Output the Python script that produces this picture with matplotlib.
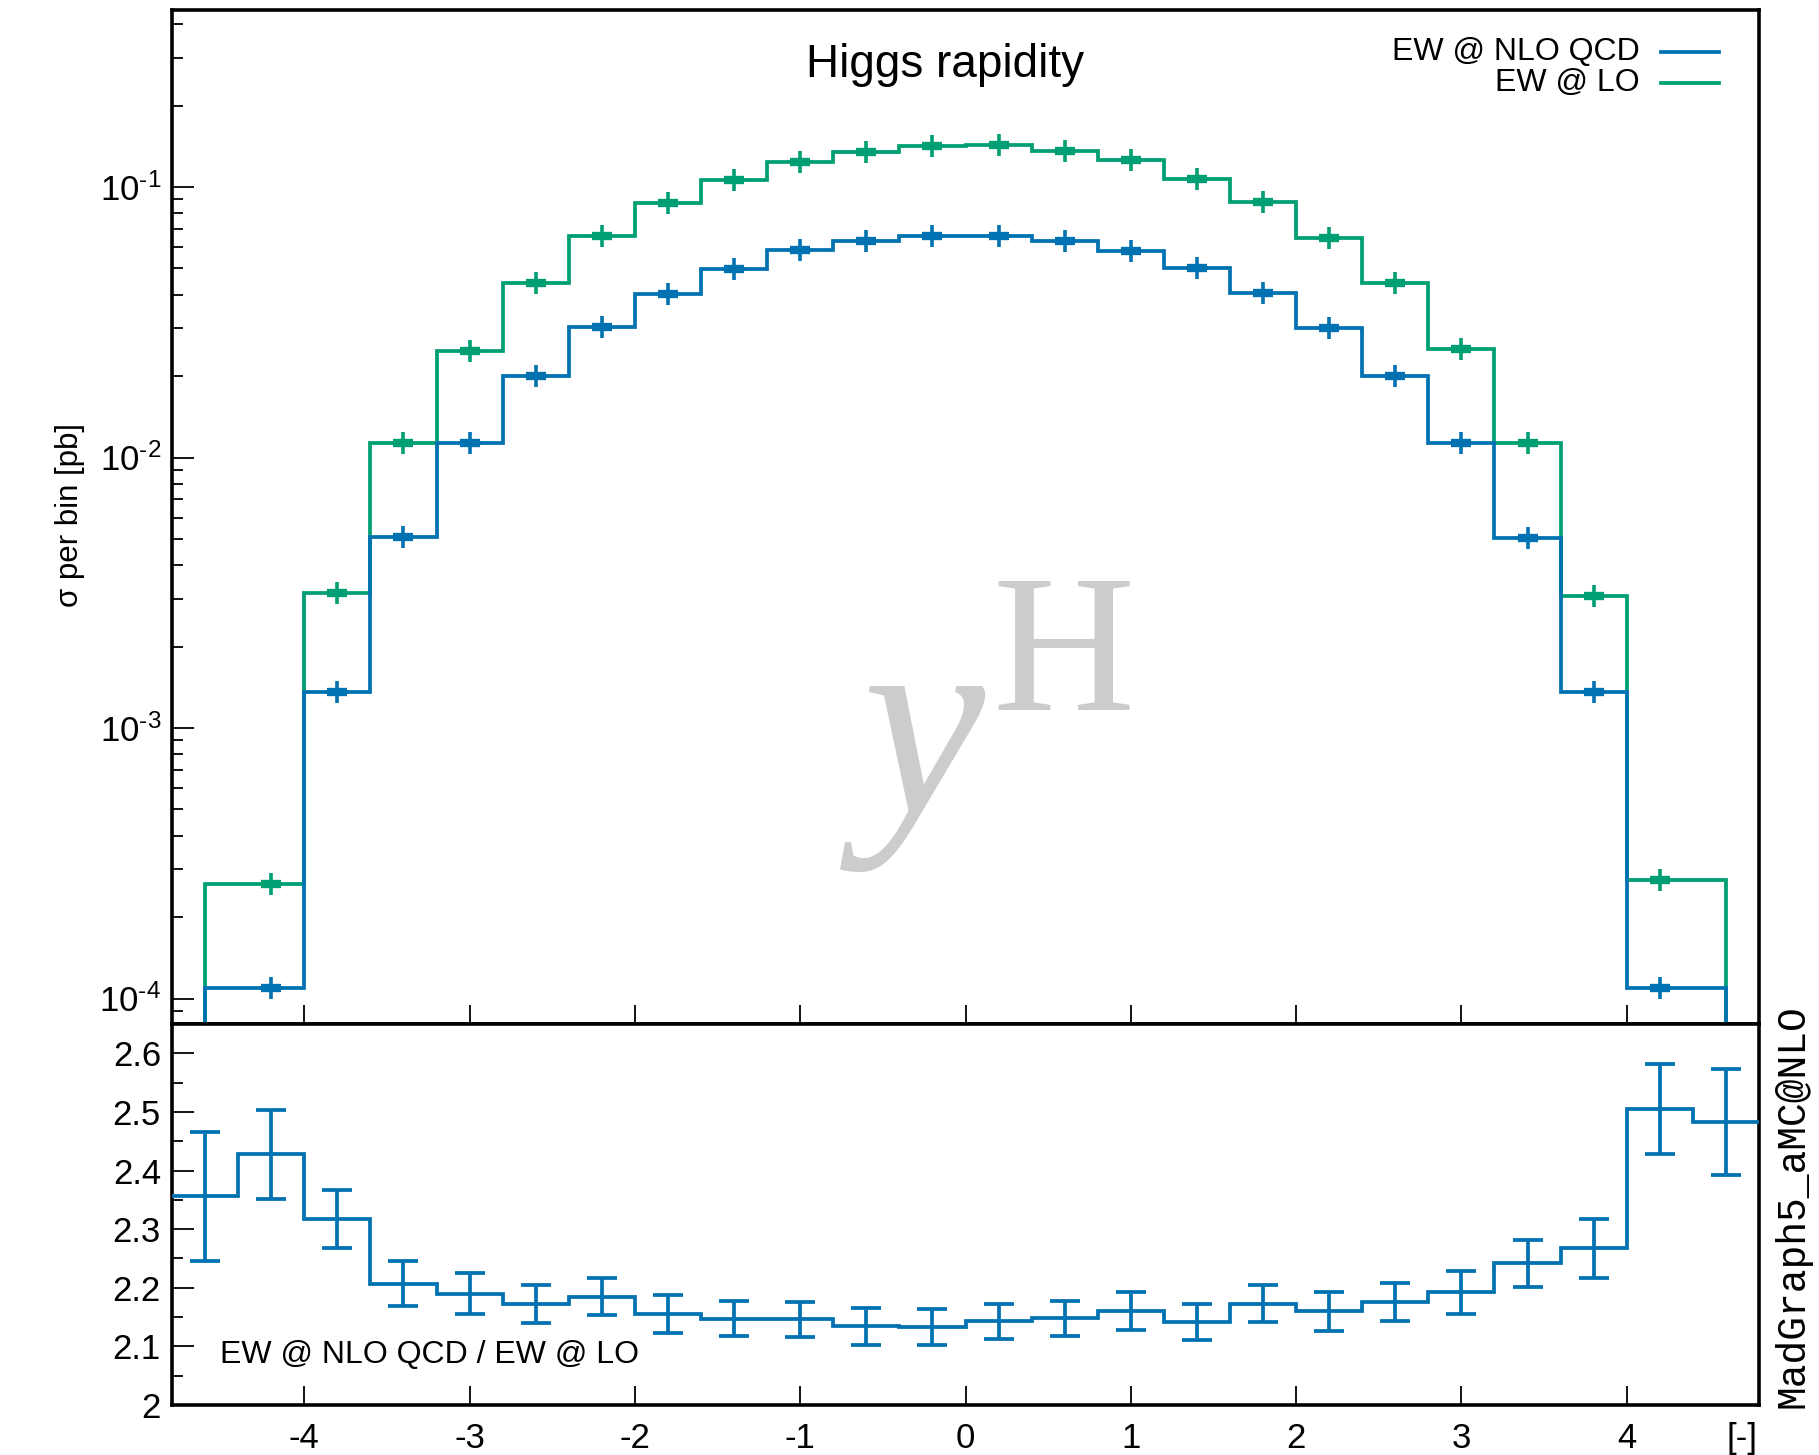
import numpy as np
import matplotlib
matplotlib.use("Agg")
import matplotlib.pyplot as plt
from matplotlib.ticker import FixedLocator, NullFormatter, LogLocator, MultipleLocator

plt.rcParams['font.family'] = ['Liberation Sans', 'DejaVu Sans']
plt.rcParams['mathtext.fontset'] = 'custom'
plt.rcParams['mathtext.rm'] = 'Liberation Sans'
plt.rcParams['mathtext.it'] = 'Liberation Sans:italic'
plt.rcParams['mathtext.bf'] = 'Liberation Sans:bold'
plt.rcParams['axes.unicode_minus'] = False

# ---- data: Higgs rapidity, bins of width 0.4 ----
bin_centers = [-4.6, -4.2, -3.8, -3.4, -3.0, -2.6, -2.2, -1.8, -1.4, -1.0, -0.6, -0.2,
               0.2, 0.6, 1.0, 1.4, 1.8, 2.2, 2.6, 3.0, 3.4, 3.8, 4.2, 4.6]
bin_width = 0.4

xsec_nlo_qcd = [2.6e-5, 1.09e-4, 1.36e-3, 5.1e-3, 1.127e-2, 1.995e-2, 3.03e-2, 4.03e-2,
                4.96e-2, 5.86e-2, 6.29e-2, 6.6e-2, 6.6e-2, 6.33e-2, 5.82e-2, 5.0e-2,
                4.05e-2, 3.0e-2, 1.995e-2, 1.127e-2, 5.06e-3, 1.36e-3, 1.09e-4, 2.7e-5]

xsec_lo = [6.1e-5, 2.66e-4, 3.15e-3, 1.127e-2, 2.48e-2, 4.40e-2, 6.6e-2, 8.71e-2,
           1.06e-1, 1.24e-1, 1.345e-1, 1.413e-1, 1.425e-1, 1.36e-1, 1.256e-1, 1.07e-1,
           8.79e-2, 6.47e-2, 4.40e-2, 2.51e-2, 1.127e-2, 3.08e-3, 2.74e-4, 6.7e-5]

ratio = [2.356, 2.428, 2.317, 2.207, 2.190, 2.172, 2.185, 2.155, 2.147, 2.146, 2.134, 2.133,
         2.143, 2.148, 2.160, 2.141, 2.173, 2.160, 2.176, 2.192, 2.242, 2.267, 2.505, 2.483]
ratio_err = [0.110, 0.076, 0.049, 0.039, 0.035, 0.032, 0.032, 0.033, 0.030, 0.030, 0.031, 0.030,
             0.030, 0.030, 0.032, 0.031, 0.032, 0.033, 0.032, 0.037, 0.040, 0.050, 0.077, 0.091]

x_ticks = [-4, -3, -2, -1, 0, 1, 2, 3, 4]
x_tick_labels = ['-4', '-3', '-2', '-1', '0', '1', '2', '3', '4']
xsec_ticks = [1e-4, 1e-3, 1e-2, 1e-1]
xsec_tick_labels = [r'$10^{\text{-}4}$', r'$10^{\text{-}3}$', r'$10^{\text{-}2}$', r'$10^{\text{-}1}$']
ratio_ticks = [2.0, 2.1, 2.2, 2.3, 2.4, 2.5, 2.6]
ratio_tick_labels = ['2', '2.1', '2.2', '2.3', '2.4', '2.5', '2.6']

series_labels = ['EW @ NLO QCD', 'EW @ LO']
BLUE = '#0072B2'
GREEN = '#009E73'

XLIM = (-4.8, 4.8)
YLIM_TOP = (8.05e-5, 0.451)
YLIM_RATIO = (2.0, 2.65)

FS_TICK = 25
FS_TEXT = 23
LW = 2.7
SPINE_LW = 2.6

fig = plt.figure(figsize=(18.19, 14.55), dpi=100)
ax = fig.add_axes([0.0946, 0.2962, 0.8724, 0.6969])
ax2 = fig.add_axes([0.0946, 0.0344, 0.8724, 0.2618])


def clipped_histeps(axis, centers, values, ymin, color, zorder):
    """Step histogram on a log axis; bins below ymin are collapsed into the
    neighbouring visible step, whose outer edge falls on the hidden bin centre."""
    c = np.asarray(centers, dtype=float)
    v = np.asarray(values, dtype=float)
    vis = np.flatnonzero(v >= ymin)
    lo, hi = vis[0], vis[-1]
    inner = 0.5 * (c[lo:hi] + c[lo + 1:hi + 1])
    left = c[lo - 1] if lo > 0 else c[lo] - 0.5 * bin_width
    right = c[hi + 1] if hi < len(c) - 1 else c[hi] + 0.5 * bin_width
    edges = np.concatenate([[left], inner, [right]])
    axis.stairs(v[lo:hi + 1], edges, baseline=ymin * 1e-3, fill=False,
                color=color, lw=LW, zorder=zorder)
    axis.plot(c[lo:hi + 1], v[lo:hi + 1], ls='none', marker='+', ms=16, mew=2.6,
              color=color, zorder=zorder + 0.1)
    axis.plot(c[lo:hi + 1], v[lo:hi + 1], ls='none', marker='_', ms=15, mew=6.0,
              color=color, zorder=zorder + 0.1)


clipped_histeps(ax, bin_centers, xsec_lo, YLIM_TOP[0], GREEN, 3)
clipped_histeps(ax, bin_centers, xsec_nlo_qcd, YLIM_TOP[0], BLUE, 4)

ax.set_yscale('log')
ax.set_xlim(*XLIM)
ax.set_ylim(*YLIM_TOP)
ax.xaxis.set_major_locator(FixedLocator(x_ticks))
ax.xaxis.set_major_formatter(NullFormatter())
ax.set_yticks(xsec_ticks, xsec_tick_labels)
ax.yaxis.set_minor_locator(LogLocator(base=10, subs=np.arange(2, 10)))
ax.yaxis.set_minor_formatter(NullFormatter())

# ratio panel
edges = np.concatenate([np.asarray(bin_centers) - bin_width / 2, [bin_centers[-1] + bin_width / 2]])
ax2.stairs(ratio, edges, baseline=None, color=BLUE, lw=LW, zorder=3)
ax2.errorbar(bin_centers, ratio, yerr=ratio_err, fmt='none', ecolor=BLUE,
             elinewidth=LW, capsize=10.5, capthick=LW, zorder=3)
ax2.set_xlim(*XLIM)
ax2.set_ylim(*YLIM_RATIO)
ax2.set_xticks(x_ticks, x_tick_labels)
ax2.set_yticks(ratio_ticks, ratio_tick_labels)
ax2.yaxis.set_minor_locator(MultipleLocator(0.05))

for a in (ax, ax2):
    for s in a.spines.values():
        s.set_linewidth(SPINE_LW)
    a.tick_params(which='both', direction='in', top=False, right=False, width=1.3,
                  labelsize=FS_TICK)
    a.tick_params(axis='x', which='major', length=14, pad=12)
    a.tick_params(axis='y', which='major', length=16, pad=8)
    a.tick_params(axis='y', which='minor', length=8)
    a.tick_params(axis='x', which='minor', bottom=False)

# titles and labels
ax.text(0.487, 0.946, 'Higgs rapidity', transform=ax.transAxes, ha='center',
        va='center', fontsize=33)
fig.text(70 / 1819, 1 - 515 / 1455, 'σ per bin [pb]', rotation=90, ha='center',
         va='center', fontsize=22.5)
ax2.text(0.030, 0.131, 'EW @ NLO QCD / EW @ LO', transform=ax2.transAxes,
         ha='left', va='center', fontsize=FS_TEXT)
ax2.annotate('[-]', xy=(1.0, 0.0), xycoords='axes fraction', xytext=(-1, -12),
             textcoords='offset points', ha='right', va='top', fontsize=FS_TICK)
fig.text(1792 / 1819, 1 - 1408 / 1455, 'MadGraph5_aMC@NLO', rotation=90,
         ha='center', va='bottom', fontsize=28.5, family='Liberation Mono')

# legend (right-aligned labels with line samples)
for k, (lab, col) in enumerate(zip(series_labels, [BLUE, GREEN])):
    ty = 1 - (51.5 + 31 * k) / 1455
    fig.text(1640 / 1819, ty, lab, ha='right', va='center', fontsize=FS_TEXT)
    ax.plot([1661 / 1819, 1719 / 1819], [ty, ty], transform=fig.transFigure,
            color=col, lw=LW, clip_on=False)

# watermark
ax.text(924 / 1819, 1 - 812 / 1455, 'y', transform=fig.transFigure, ha='center',
        va='baseline', fontsize=198, family='Liberation Serif', style='italic',
        color='#cccccc', zorder=0)
ax.text(1064 / 1819, 1 - 710 / 1455, 'H', transform=fig.transFigure, ha='center',
        va='baseline', fontsize=142, family='Liberation Serif', color='#cccccc',
        zorder=0)

fig.savefig('out.png', dpi=100)
